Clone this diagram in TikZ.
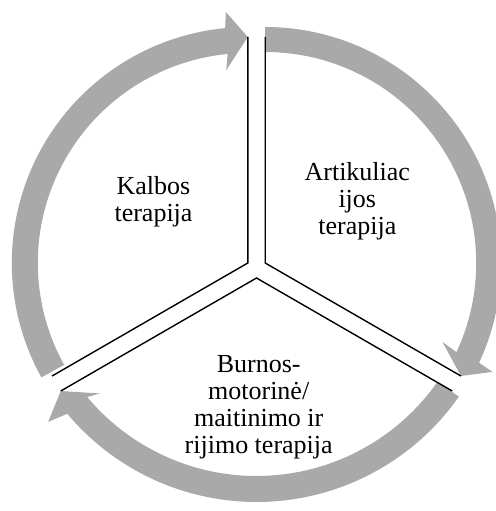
\documentclass[tikz,border=0pt]{standalone}
\usepackage{fontspec}
\setmainfont{Liberation Serif}
\usetikzlibrary{calc}
\definecolor{bandgray}{HTML}{A9A9A9}
\tikzset{
  seg/.style={draw=black, line width=1.4pt, line join=miter},
  band/.style={fill=bandgray},
  lbl/.style={font=\fontsize{26}{27}\selectfont, align=center, inner sep=0pt, anchor=base},
}
\begin{document}
\begin{tikzpicture}[x=1pt,y=1pt]
\useasboundingbox (0,0) rectangle (495,511);
% apexes of the three segments
\coordinate (A1) at (265.2,248);
\coordinate (A2) at (256.5,233);
\coordinate (A3) at (247.8,248);
\coordinate (C2) at (256.5,256);
% outer ends of the segment edges
\coordinate (E1a) at ($(A1)+(90:226)$);
\coordinate (E1b) at ($(A1)+(-30:226)$);
\coordinate (E2a) at ($(A2)+(-30:226)$);
\coordinate (E2b) at ($(A2)+(210:226)$);
\coordinate (E3a) at ($(A3)+(210:226)$);
\coordinate (E3b) at ($(A3)+(90:226)$);
% circular arrows
\fill[band] ($(A1)+(90:236)$) arc[start angle=90, end angle=-25, radius=236]
  -- ($(A1)+(-25.6:252)$) -- (E1b) -- ($(A1)+(-24:194)$) -- ($(A1)+(-25:211)$)
  arc[start angle=-25, end angle=90, radius=211] -- cycle;
\fill[band] ($(C2)+(-35:247)$) arc[start angle=-35, end angle=-140, radius=247]
  -- ($(C2)+(-141.3:267)$) -- (E2b) -- ($(C2)+(-138.5:209)$) -- ($(C2)+(-140:221)$)
  arc[start angle=-140, end angle=-35, radius=221] -- cycle;
\fill[band] ($(A3)+(209:236)$) arc[start angle=209, end angle=95.5, radius=236]
  -- ($(A3)+(95:252)$) -- (E3b) -- ($(A3)+(96.4:194)$) -- ($(A3)+(95.5:210)$)
  arc[start angle=95.5, end angle=209, radius=210] -- cycle;
% segment edges
\draw[seg] (E1a) -- (A1) -- (E1b);
\draw[seg] (E2a) -- (A2) -- (E2b);
\draw[seg] (E3a) -- (A3) -- (E3b);
% labels (anchored at the baseline of the last line)
\node[lbl] (kalbos) at (153.5,289.3) {Kalbos\\terapija};
\node[lbl] (artik) at (357.3,276) {Artikuliac\\ijos\\terapija};
\node[lbl] (burnos) at (258.7,57.7) {Burnos-\\motorinė/\\maitinimo ir\\rijimo terapija};
\end{tikzpicture}
\end{document}
